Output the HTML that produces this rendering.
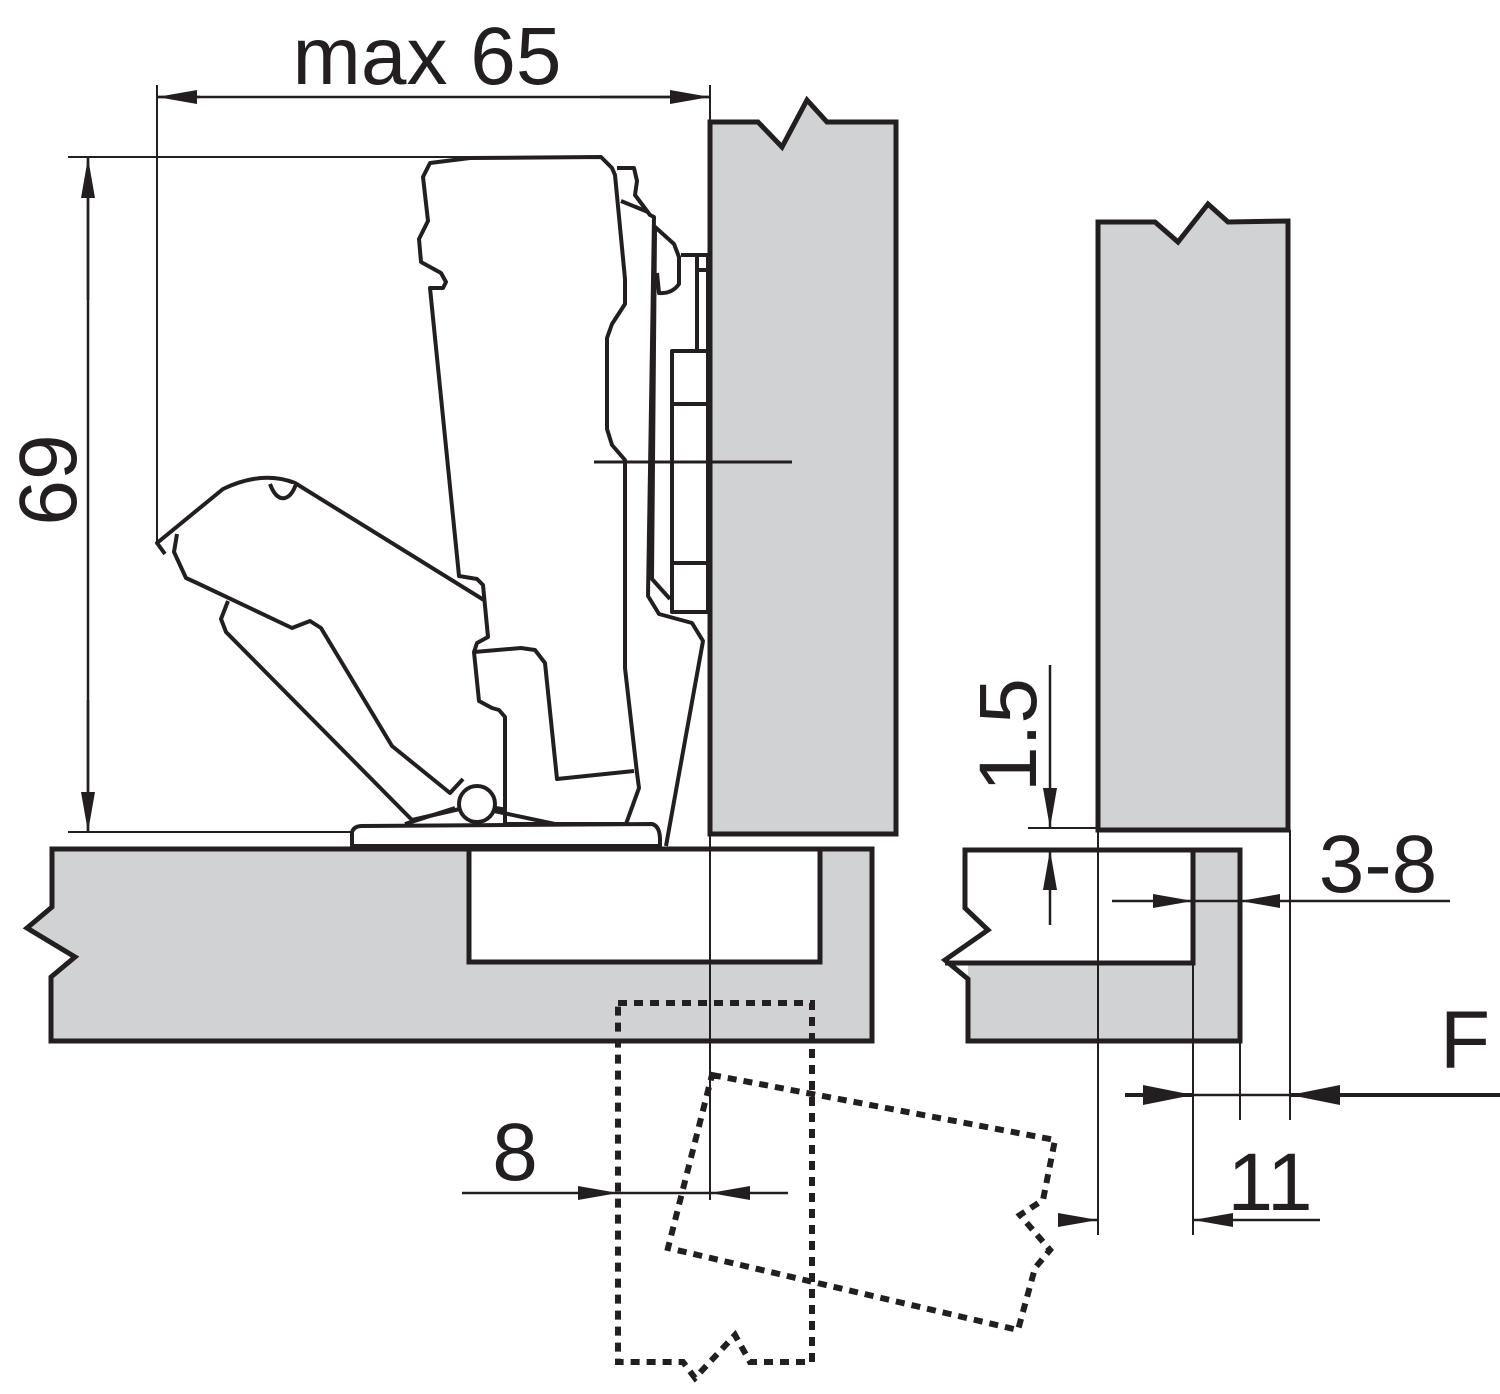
<!DOCTYPE html>
<html><head><meta charset="utf-8"><style>
html,body{margin:0;padding:0;background:#fff;}
svg{display:block;}
text{font-family:"Liberation Sans",sans-serif;fill:#231f20;}
</style></head><body>
<svg width="1500" height="1394" viewBox="0 0 1500 1394" xmlns="http://www.w3.org/2000/svg">
<defs>
<marker id="a" viewBox="0 0 40 14" refX="40" refY="7" markerWidth="40" markerHeight="14" markerUnits="userSpaceOnUse" orient="auto"><path d="M0,0 L40,7 L0,14 Z" fill="#231f20"/></marker>
<marker id="ab" viewBox="0 0 50 20" refX="50" refY="10" markerWidth="50" markerHeight="20" markerUnits="userSpaceOnUse" orient="auto"><path d="M0,0 L50,10 L0,20 Z" fill="#231f20"/></marker>
</defs>
<g stroke="#231f20" fill="none">
<path d="M710,834 L710,122 L758,122 L782,147 L807,100 L827,122 L896,122 L896,834 Z" fill="#d1d2d4" stroke-width="5"/>
<path d="M1098,830 L1098,222 L1155,222 L1178,242 L1208,204 L1228,222 L1288,221 L1288,830 Z" fill="#d1d2d4" stroke-width="5"/>
<path d="M52,849 L872,849 L872,1041 L51,1041 L51,977 L75,957 L27,928 L52,907 Z" fill="#d1d2d4" stroke-width="5"/>
<rect x="469" y="849" width="351" height="113" fill="#fff" stroke-width="5"/>
<path d="M968,963 L1240,963 L1240,1041 L968,1041 Z" fill="#d1d2d4" stroke="none"/>
<rect x="1193" y="850" width="47" height="113" fill="#d1d2d4" stroke="none"/>
<path d="M965,850 L1240,850 L1240,1041 L968,1041 L968,979 L945,960 L988,930 L965,908 Z" stroke-width="5"/>
<path d="M945,963 L1193,963 L1193,850" stroke-width="5"/>

<g stroke-width="4" stroke-linejoin="round">
<path d="M165,554 L157,543 L223,489 Q263,470 295,483 L500,610" fill="none"/>
<path d="M177,534 L174,552 L186,578 L197,583 L292,628 L310,621 L321,628 L392,746 L450,793 L463,779" fill="none"/>
<path d="M270,484 Q276,500 285,498 Q292,496 296,484" fill="#fff"/>
<path d="M228,601 L221,619 L226,632 L412,820 L477,805 L514,811" fill="none"/>
<path d="M470,158 L601,157 L612,168 L615,175 L625,279 L625,304 L612,324 L607,338 L607,429 L612,445 L625,460 L625,668 L637,773 L639,788 L626,824 L505,824 L505,717 L499,710 L492,708 L479,701 L474,652 L477,643 L488,637 L483,585 L477,579 L459,576 L430,288 L443,288 L446,282 L441,273 L421,262 L419,239 L428,221 L423,177 L430,163 Z" fill="#fff"/>
<path d="M474,652 L521,648 L535,650 L545,663 L557,779 L634,771" fill="none"/>
<circle cx="477" cy="804" r="18" fill="#fff"/>
<path d="M352,846 L352,832 Q354,826 362,826 L652,824 Q660,826 660,840 L660,846 Z" fill="#fff"/>
<path d="M405,824 L455,808 M494,811 L555,824" fill="none"/>
<path d="M617,168 L634,168 L637,181 L635,195 L650,215 L654,217 L648,596 L659,614 L692,623 L703,641 L666,846" fill="none"/>
<path d="M621,201 L648,212" fill="none"/>
<path d="M655,230 L652,579 L670,599" fill="none"/>
<path d="M654,226 L674,244 L679,257 L679,284 Q672,294 659,293 L657,273" fill="none"/>
<rect x="672" y="351" width="36" height="261" fill="#fff"/>
<path d="M672,404 L708,404 M672,563 L708,563" fill="none"/>
<path d="M681,255 L708,255 L708,351 M697,255 L697,351 M697,270 L708,270" fill="none"/>
</g>
<path d="M594,462 L792,462" stroke-width="3"/>
<path d="M710,834 L710,1200" stroke-width="2"/>

<path d="M157,85 L157,543 M710,85 L710,120" stroke-width="2"/>
<path d="M200,97 L157,97" stroke-width="2.5" marker-end="url(#a)"/>
<path d="M600,97 L710,97" stroke-width="2.5" marker-end="url(#a)"/>
<path d="M157,97 L710,97" stroke-width="2.5"/>
<path d="M68,157 L600,157 M68,832 L352,832" stroke-width="2"/>
<path d="M88,300 L88,158" stroke-width="2.5" marker-end="url(#a)"/>
<path d="M88,700 L88,832" stroke-width="2.5" marker-end="url(#a)"/>
<path d="M88,158 L88,832" stroke-width="2.5"/>
<path d="M1028,828 L1098,828" stroke-width="2"/>
<path d="M1050,665 L1050,828" stroke-width="2.5" marker-end="url(#a)"/>
<path d="M1050,925 L1050,850" stroke-width="2.5" marker-end="url(#a)"/>
<path d="M1112,901 L1193,901" stroke-width="2.5" marker-end="url(#a)"/>
<path d="M1450,901 L1240,901" stroke-width="2.5" marker-end="url(#a)"/>
<path d="M1193,901 L1240,901" stroke-width="2.5"/>
<path d="M1240,1041 L1240,1120 M1290,830 L1290,1120 M1098,830 L1098,1235 M1193,963 L1193,1235" stroke-width="2"/>
<path d="M1125,1095 L1193,1095" stroke-width="4" marker-end="url(#ab)"/>
<path d="M1500,1095 L1290,1095" stroke-width="4" marker-end="url(#ab)"/>
<path d="M1193,1095 L1290,1095" stroke-width="2.5"/>
<path d="M1060,1220 L1098,1220" stroke-width="2.5" marker-end="url(#a)"/>
<path d="M1320,1220 L1193,1220" stroke-width="2.5" marker-end="url(#a)"/>
<path d="M462,1193 L618,1193" stroke-width="2.5" marker-end="url(#a)"/>
<path d="M788,1193 L710,1193" stroke-width="2.5" marker-end="url(#a)"/>
<path d="M618,1193 L710,1193" stroke-width="2.5"/>

<path d="M618,1003 L812,1003 L812,1362 L750,1362 L735,1335 L695,1378 L683,1362 L618,1362 Z" stroke-width="6" stroke-dasharray="9,7"/>
<path d="M712,1075 L1055,1140 L1043,1200 L1020,1215 L1050,1250 L1035,1268 L1018,1330 L668,1248 Z" stroke-width="6" stroke-dasharray="9,7"/>
</g>

<text x="427" y="84" font-size="82" text-anchor="middle">max 65</text>
<text transform="translate(76,480) rotate(-90)" font-size="82" text-anchor="middle">69</text>
<text transform="translate(1036,735) rotate(-90)" font-size="82" text-anchor="middle">1.5</text>
<text x="1378" y="892" font-size="82" text-anchor="middle">3-8</text>
<text x="1465" y="1068" font-size="82" text-anchor="middle">F</text>
<text x="1270" y="1210" font-size="82" text-anchor="middle">11</text>
<text x="515" y="1180" font-size="82" text-anchor="middle">8</text>
</svg>
</body></html>
